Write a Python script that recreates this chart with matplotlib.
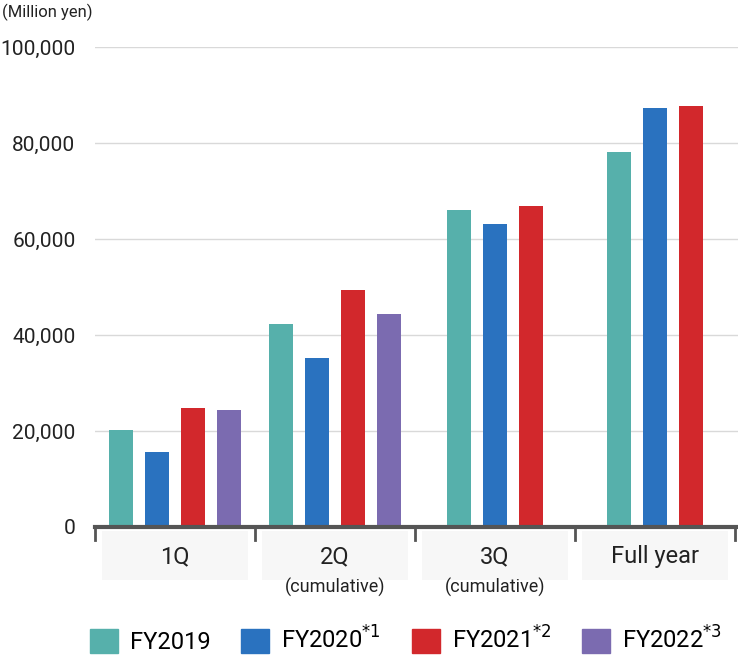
import matplotlib.pyplot as plt
from matplotlib.patches import Rectangle
import matplotlib.transforms as mtransforms

plt.rcParams["font.family"] = "Roboto"

groups = ["1Q", "2Q", "3Q", "Full year"]
sublabels = ["", "(cumulative)", "(cumulative)", ""]
series = ["FY2019", "FY2020", "FY2021", "FY2022"]
legend_labels = ["FY2019", "FY2020$^{*1}$", "FY2021$^{*2}$", "FY2022$^{*3}$"]
fy2019 = [20200, 42300, 66000, 78100]
fy2020 = [15600, 35200, 63100, 87300]
fy2021 = [24800, 49400, 66900, 87700]
fy2022 = [24400, 44400, None, None]
colors = ["#56b0ab", "#2a72bf", "#d2282c", "#7b6bb0"]

fig = plt.figure(figsize=(7.38, 6.6), dpi=100)
ax = fig.add_axes([95 / 738, 133 / 660, 643 / 738, 480 / 660])

data = [fy2019, fy2020, fy2021, fy2022]
step = 0.225
width = 0.156
handles = []
for g in range(len(groups)):
    vals = [d[g] for d in data]
    idx = [i for i, v in enumerate(vals) if v is not None]
    n = len(idx)
    for k, i in enumerate(idx):
        x = g + 0.5 + (k - (n - 1) / 2) * step
        ax.bar(x, vals[i], width=width, color=colors[i], zorder=3)

for i, c in enumerate(colors):
    handles.append(Rectangle((0, 0), 1, 1, color=c))

ax.set_xlim(0, 643 / 160)
ax.set_ylim(0, 100000)
ax.set_yticks(range(0, 100001, 20000))
ax.set_yticklabels([f"{v:,}" for v in range(0, 100001, 20000)], fontsize=15, color="#222222")
ax.tick_params(axis="y", length=0, pad=14)
ax.set_xticks([])
ax.yaxis.grid(True, color="#d9d9d9", linewidth=1, zorder=0)
for s in ["top", "right", "left"]:
    ax.spines[s].set_visible(False)
ax.spines["bottom"].set_color("#555555")
ax.spines["bottom"].set_linewidth(3)
ax.spines["bottom"].set_zorder(4)

trans = mtransforms.blended_transform_factory(ax.transData, ax.transAxes)
for g in range(5):
    ax.plot([g, g], [0, -13 / 480], color="#555555", lw=2, transform=trans, clip_on=False)
for g, (lab, sub) in enumerate(zip(groups, sublabels)):
    ax.add_patch(Rectangle((g + 0.045, -53 / 480), 0.91, 49 / 480, transform=trans,
                           facecolor="#f7f7f7", edgecolor="none", clip_on=False))
    ax.text(g + 0.5, -30 / 480, lab, transform=trans, ha="center", va="center", fontsize=17, color="#222222")
    if sub:
        ax.text(g + 0.5, -60 / 480, sub, transform=trans, ha="center", va="center", fontsize=13, color="#222222")

fig.text(2 / 738, 1 - 12 / 660, "(Million yen)", fontsize=12, va="center", ha="left", color="#222222")

fig.legend(handles, legend_labels, loc="center", bbox_to_anchor=(0.55, 1 - 640 / 660), ncol=4,
           frameon=False, fontsize=17, handlelength=1.2, handleheight=1.2, columnspacing=1.3, handletextpad=0.5)

fig.savefig("out.png", dpi=100)
